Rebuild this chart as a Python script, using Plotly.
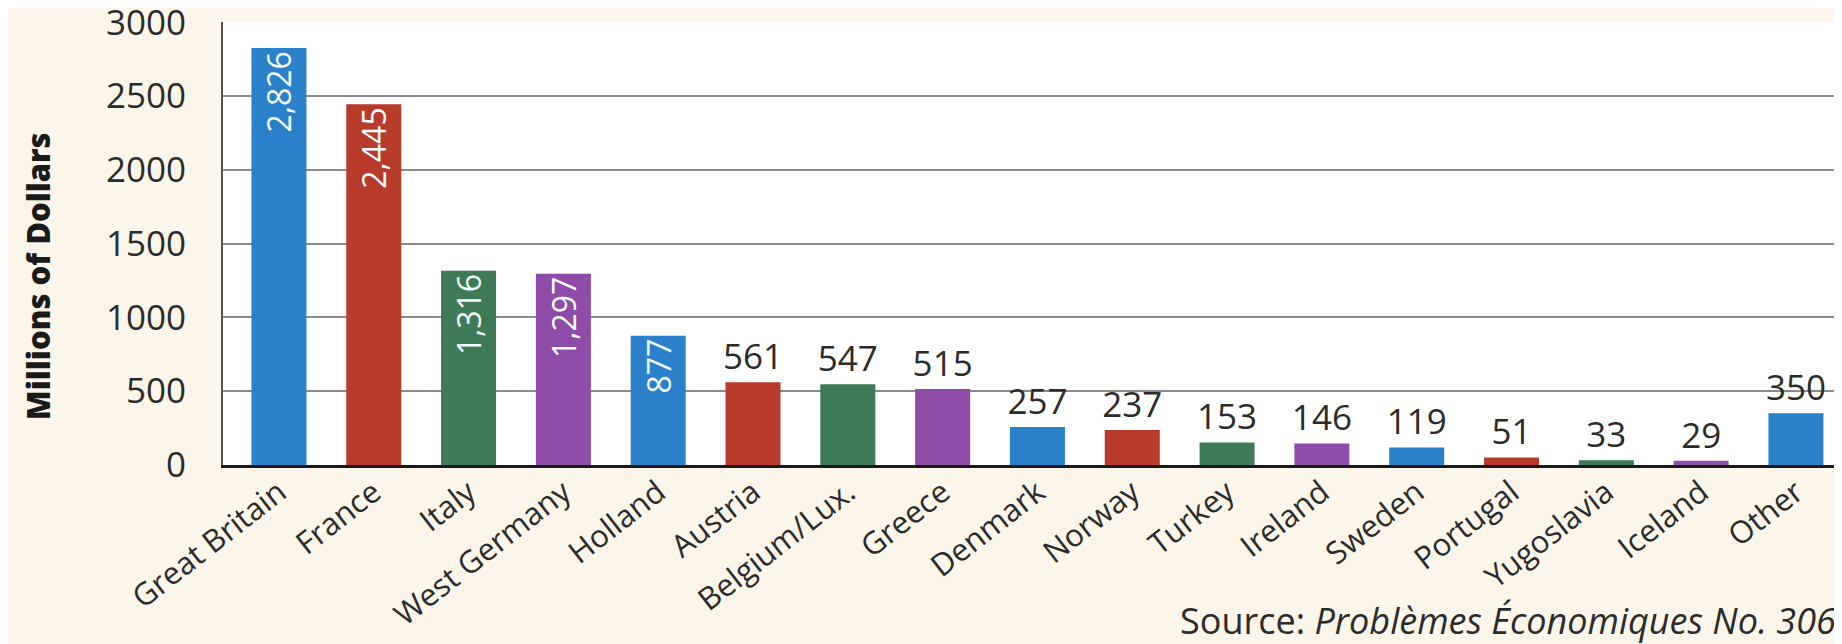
import plotly.graph_objects as go

countries = ["Great Britain", "France", "Italy", "West Germany", "Holland", "Austria",
             "Belgium/Lux.", "Greece", "Denmark", "Norway", "Turkey", "Ireland",
             "Sweden", "Portugal", "Yugoslavia", "Iceland", "Other"]
values = [2826, 2445, 1316, 1297, 877, 561, 547, 515, 257, 237, 153, 146, 119, 51, 33, 29, 350]
palette = ["#2a80c9", "#b83a2a", "#3e7a56", "#8f4ba8"]
colors = [palette[i % 4] for i in range(len(countries))]
n_inside = 5  # first bars carry their label inside, rotated

y_ticks = [0, 500, 1000, 1500, 2000, 2500, 3000]

FONT = "Open Sans, DejaVu Sans, sans-serif"

fig = go.Figure()
fig.add_trace(go.Bar(
    x=countries[:n_inside], y=values[:n_inside],
    marker=dict(color=colors[:n_inside], line=dict(width=0)),
    text=[f"{v:,}" for v in values[:n_inside]],
    textposition="inside", insidetextanchor="end", textangle=-90,
    textfont=dict(family=FONT, size=32, color="#f4fbff"),
    constraintext="none", showlegend=False,
))
fig.add_trace(go.Bar(
    x=countries[n_inside:], y=values[n_inside:],
    marker=dict(color=colors[n_inside:], line=dict(width=0)),
    text=[f"{v:,}" for v in values[n_inside:]],
    textposition="outside", textangle=0,
    textfont=dict(family=FONT, size=35, color="#2b2b2b"),
    constraintext="none", cliponaxis=False, showlegend=False,
))

fig.update_layout(
    width=1842, height=644,
    margin=dict(l=215, r=0, t=14, b=187, autoexpand=False),
    paper_bgcolor="#fcf5ea", plot_bgcolor="#ffffff",
    barmode="overlay", bargap=0.42,
    font=dict(family=FONT, color="#2b2b2b"),
    xaxis=dict(
        type="category", categoryorder="array", categoryarray=countries,
        range=[-0.59, 16.57], tickangle=-38, showgrid=False, automargin=False,
        tickfont=dict(family=FONT, size=31, color="#2b2b2b"),
        ticks="", showline=True, linecolor="#1a1a1a", linewidth=3,
        ticklabelstandoff=-6,
    ),
    yaxis=dict(
        range=[0, 3003], tickvals=y_ticks, ticktext=[str(t) for t in y_ticks],
        showgrid=True, gridcolor="#8a8a8a", gridwidth=2, automargin=False,
        zeroline=False, showline=True, linecolor="#555555", linewidth=2,
        tickfont=dict(family=FONT, size=35, color="#2b2b2b"),
        ticks="", ticklabelstandoff=28, ticklabeloverflow="allow",
    ),
    annotations=[
        dict(text="Millions of Dollars", xref="paper", yref="paper",
             x=-0.114, y=0.425, xanchor="center", yanchor="middle", textangle=-90,
             showarrow=False,
             font=dict(family="Open Sans", size=31, weight=800, color="#1a1a1a")),
        dict(text="Source: <i>Problèmes Économiques No. 306</i>", xref="paper", yref="paper",
             x=1, y=-0.35, xanchor="right", yanchor="middle", xshift=-12,
             showarrow=False, font=dict(family=FONT, size=36, color="#2b2b2b")),
    ],
)

fig.write_html("out.html")
